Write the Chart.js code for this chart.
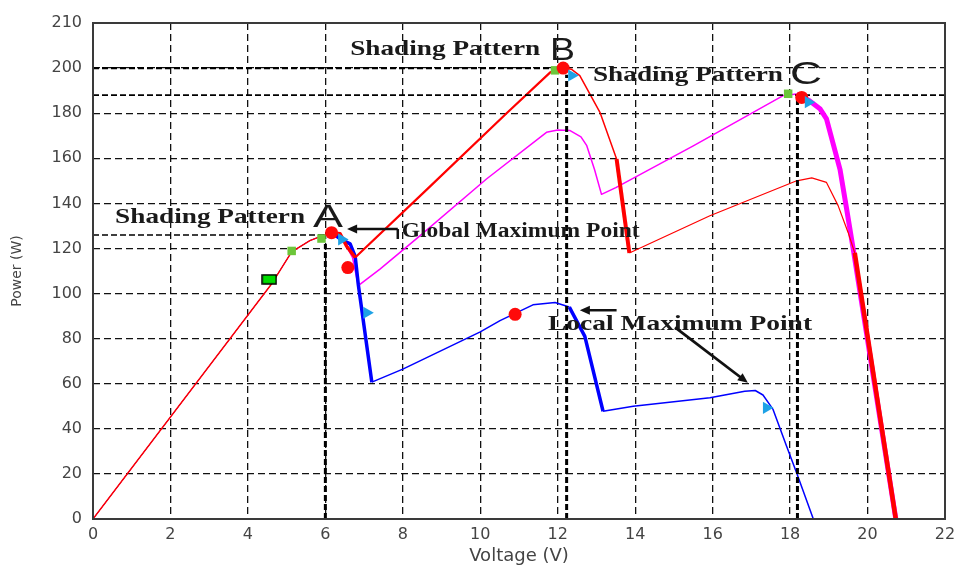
<!DOCTYPE html>
<html>
<head>
<meta charset="utf-8">
<script src="https://cdn.jsdelivr.net/npm/chart.js@4.4.0/dist/chart.umd.min.js"></script>
<style>
  html, body { margin: 0; padding: 0; background: #fff; }
  canvas { display: block; }
</style>
</head>
<body>
<canvas id="pvChart" width="955" height="567"></canvas>
<script>
// P-V curves: voltage (V) / power (W)
// shading pattern A (blue)
const voltageA = [0, 4.6, 5.13, 5.6, 5.9, 6.16, 6.4, 6.64, 6.77, 6.85, 7.2, 8.0, 10.0, 10.51, 11.36, 11.93, 12.3, 12.7, 13.17, 13.95, 15.93, 16.83, 17.1, 17.3, 17.56, 17.91, 18.17, 18.6]
const powerA   = [0, 104, 118.5, 123.5, 125.5, 127, 124, 122, 116.5, 104, 60.7, 66.5, 83, 88, 95, 96, 94, 81, 47.8, 50, 53.8, 56.7, 57, 55, 48.6, 32.3, 20.4, 0]
// shading pattern B (red)
const voltageB = [0, 4.6, 5.13, 5.6, 5.9, 6.16, 6.38, 6.55, 6.77, 8.61, 10.68, 11.8, 12.1, 12.35, 12.57, 13.09, 13.52, 13.85, 15.93, 18.17, 18.56, 18.94, 19.24, 19.5, 19.67, 20.73]
const powerB   = [0, 104, 118.5, 123.5, 125.5, 127, 126.5, 121, 116, 146, 180, 198, 200.5, 199.5, 196.7, 180.4, 159.7, 118, 134.5, 150, 151.3, 149.3, 139, 127, 118, 0]
// shading pattern C (magenta)
const voltageC = [0, 4.6, 5.13, 5.6, 5.9, 6.16, 6.45, 6.7, 6.85, 7.41, 8.44, 10.16, 11.71, 12.0, 12.32, 12.6, 12.75, 12.95, 13.13, 13.5, 15.5, 17.82, 18.17, 18.5, 18.77, 18.94, 19.29, 19.46, 19.63, 20.73]
const powerC   = [0, 104, 118.5, 123.5, 125.5, 127, 124, 116, 103.5, 110.8, 125.6, 150.8, 171.5, 172.5, 172.3, 169.5, 165.6, 155, 144, 147, 165.5, 187.8, 188.5, 185.5, 182, 177.5, 155, 137.5, 119.7, 0]

// tracking markers
const redDotV   = [6.16, 6.58, 10.9, 12.14, 18.3]
const redDotP   = [127, 111.5, 90.8, 200, 187]
const greenDotV = [5.13, 5.9, 11.93, 17.95]
const greenDotP = [118.9, 124.4, 199, 188.6]
const greenBoxV = [4.55]
const greenBoxP = [106.3]
const blueTriV  = [6.42, 7.07, 12.36, 17.39, 18.47]
const blueTriP  = [124, 91.5, 196.7, 49.3, 184.9]

// maximum power guides
const guideV    = [6.0, 12.23, 18.19]
const guideVTop = [122, 197, 186]
const guideH    = [200, 188, 126]
const guideHEnd = [12.1, 22, 6.1]

// axes
const xMin = 0, xMax = 22, xStep = 2
const yTickValues = [0, 20, 40, 60, 80, 100, 120, 140, 160, 180, 200, 220]
const yTickLabels = ['0', '20', '40', '60', '80', '100', '120', '140', '160', '180', '200', '210']

// text on the plot
const noteText = ['Shading Pattern', 'A', 'Shading Pattern', 'B', 'Shading Pattern', 'C', 'Global Maximum Point', 'Local Maximum Point']
const noteV    = [0.57, 5.68, 6.64, 11.8, 12.91, 18.0, 7.97, 11.75]
const noteP    = [134.4, 134.4, 209, 208.6, 197.7, 198, 128.6, 87.2]
//
const toPoints = (xs, ys) => xs.map((x, i) => ({ x: x, y: ys[i] }))

function widthBy(ranges, base) {
    return ctx => {
        const a = ctx.p0.parsed.x, b = ctx.p1.parsed.x
        for (const r of ranges) {
            if (a >= r[0] - 1e-6 && b <= r[1] + 1e-6) return r[2]
        }
        return base
    }
}

function curve(xs, ys, color, ranges, base) {
    return {
        data: toPoints(xs, ys),
        borderColor: color,
        borderWidth: base,
        pointRadius: 0,
        borderJoinStyle: 'round',
        segment: { borderWidth: widthBy(ranges, base) }
    }
}

function guide(points, width) {
    return {
        data: points,
        borderColor: '#000',
        borderWidth: width,
        borderDash: [6, 3],
        pointRadius: 0
    }
}

function markers(xs, ys, style) {
    return Object.assign({
        data: toPoints(xs, ys),
        showLine: false,
        borderWidth: 0
    }, style)
}

// green box marker with black edge
const greenBox = document.createElement('canvas')
greenBox.width = 16
greenBox.height = 11
{
    const g = greenBox.getContext('2d')
    g.fillStyle = '#00dd00'
    g.fillRect(1, 1, 14, 9)
    g.strokeStyle = '#000'
    g.lineWidth = 1.5
    g.strokeRect(1, 1, 14, 9)
}

// chart.js paints the first dataset on top, so the list goes top -> bottom
const datasets = [
    markers(blueTriV, blueTriP, { pointStyle: 'triangle', rotation: 90, pointRadius: 7, backgroundColor: '#1ea2e6' }),
    markers(redDotV, redDotP, { pointStyle: 'circle', pointRadius: 6.5, backgroundColor: '#ff0a0a' }),
    markers(greenDotV, greenDotP, { pointStyle: 'rect', pointRadius: 6, backgroundColor: '#6cc63a' }),
    markers(greenBoxV, greenBoxP, { pointStyle: greenBox }),
    //
    ...guideV.map((v, i) => guide([{ x: v, y: 0 }, { x: v, y: guideVTop[i] }], 3)),
    ...guideH.map((p, i) => guide([{ x: 0, y: p }, { x: guideHEnd[i], y: p }], i === 0 ? 2.2 : 1.6)),
    //
    curve(voltageB, powerB, '#ff0000', [[0, 6.16, 1.4], [6.16, 6.77, 3.5], [6.77, 12.1, 2.2], [12.1, 13.52, 1.5], [13.52, 13.85, 4], [19.67, 20.73, 4.5]], 1.2),
    curve(voltageA, powerA, '#0000ff', [[0, 6.16, 0.8], [6.16, 7.2, 3.5], [12.3, 13.17, 3.5]], 1.5),
    curve(voltageC, powerC, '#ff00ff', [[0, 6.16, 0.8], [18.17, 20.73, 5]], 1.5)
]

// width of each note in pixels, the picture is drawn wide
const noteFont  = ['bold 21px "Liberation Serif"', '32px "Liberation Sans"', 'bold 21px "Liberation Serif"', '32px "Liberation Sans"',
                   'bold 21px "Liberation Serif"', '32px "Liberation Sans"', 'bold 20px "Liberation Serif"', 'bold 21px "Liberation Serif"']
const noteWidth = [190, 30, 190, 25, 190, 32, 238, 264]

function stretchText(ctx, text, x, yMid, font, width) {
    ctx.save()
    ctx.font = font
    const m = ctx.measureText(text)
    const cap = m.actualBoundingBoxAscent
    ctx.translate(x, yMid + cap / 2)
    ctx.scale(width / m.width, 1)
    ctx.fillStyle = '#1a1a1a'
    ctx.textBaseline = 'alphabetic'
    ctx.fillText(text, 0, 0)
    ctx.restore()
}

function arrow(ctx, x0, y0, x1, y1, width) {
    const ang = Math.atan2(y1 - y0, x1 - x0)
    const head = 11
    ctx.save()
    ctx.strokeStyle = '#111'
    ctx.fillStyle = '#111'
    ctx.lineWidth = width
    ctx.beginPath()
    ctx.moveTo(x0, y0)
    ctx.lineTo(x1 - Math.cos(ang) * head * 0.8, y1 - Math.sin(ang) * head * 0.8)
    ctx.stroke()
    ctx.beginPath()
    ctx.moveTo(x1, y1)
    ctx.lineTo(x1 - head * Math.cos(ang - 0.42), y1 - head * Math.sin(ang - 0.42))
    ctx.lineTo(x1 - head * Math.cos(ang + 0.42), y1 - head * Math.sin(ang + 0.42))
    ctx.closePath()
    ctx.fill()
    ctx.restore()
}

const notesPlugin = {
    id: 'notes',
    afterDraw(chart) {
        const { ctx, chartArea: a, scales: { x, y } } = chart
        // plot frame
        ctx.save()
        ctx.strokeStyle = '#3a3a3a'
        ctx.lineWidth = 2
        ctx.strokeRect(a.left, a.top, a.right - a.left, a.bottom - a.top)
        ctx.restore()
        //
        noteText.forEach((t, i) => {
            stretchText(ctx, t, x.getPixelForValue(noteV[i]), y.getPixelForValue(noteP[i]), noteFont[i], noteWidth[i])
        })
        // global maximum arrow
        const gx = x.getPixelForValue(7.87), gy = y.getPixelForValue(128.6)
        arrow(ctx, gx, gy, x.getPixelForValue(6.56), gy, 2.5)
        ctx.save()
        ctx.strokeStyle = '#111'
        ctx.lineWidth = 2.5
        ctx.beginPath()
        ctx.moveTo(gx, gy)
        ctx.lineTo(gx, y.getPixelForValue(124.2))
        ctx.stroke()
        ctx.restore()
        // local maximum arrows
        const ly = y.getPixelForValue(92.6)
        arrow(ctx, x.getPixelForValue(13.52), ly, x.getPixelForValue(12.57), ly, 2.5)
        arrow(ctx, x.getPixelForValue(15.03), y.getPixelForValue(85), x.getPixelForValue(16.91), y.getPixelForValue(60.4), 2.8)
    }
}

new Chart('pvChart', {
    type: 'line',
    data: { datasets: datasets },
    options: {
        responsive: false,
        animation: false,
        layout: { padding: { top: 23, right: 0, left: 0, bottom: 0 } },
        plugins: { legend: { display: false }, tooltip: { enabled: false } },
        scales: {
            x: {
                type: 'linear',
                min: xMin,
                max: xMax,
                afterFit: s => { s.height = 48; s.paddingRight = 10; s.paddingLeft = 0 },
                ticks: { stepSize: xStep, color: '#444', padding: 6, font: { family: 'DejaVu Sans', size: 16 } },
                grid: { color: '#111', lineWidth: 1.3, drawTicks: false },
                border: { display: false, dash: [7, 4] },
                title: { display: true, text: 'Voltage (V)', color: '#444', padding: { top: 0, bottom: 0 }, font: { family: 'DejaVu Sans', size: 18 } }
            },
            y: {
                type: 'linear',
                min: yTickValues[0],
                max: yTickValues[yTickValues.length - 1],
                afterFit: s => { s.width = 93 },
                afterBuildTicks: s => { s.ticks = yTickValues.map(v => ({ value: v })) },
                ticks: {
                    color: '#444',
                    padding: 11,
                    font: { family: 'DejaVu Sans', size: 16 },
                    callback: v => yTickLabels[yTickValues.indexOf(v)]
                },
                grid: { color: '#111', lineWidth: 1.3, drawTicks: false },
                border: { display: false, dash: [7, 4] },
                title: { display: true, text: 'Power (W)', color: '#444', padding: { top: 9, bottom: 0 }, font: { family: 'DejaVu Sans', size: 14 } }
            }
        }
    },
    plugins: [notesPlugin]
});
</script>
</body>
</html>
